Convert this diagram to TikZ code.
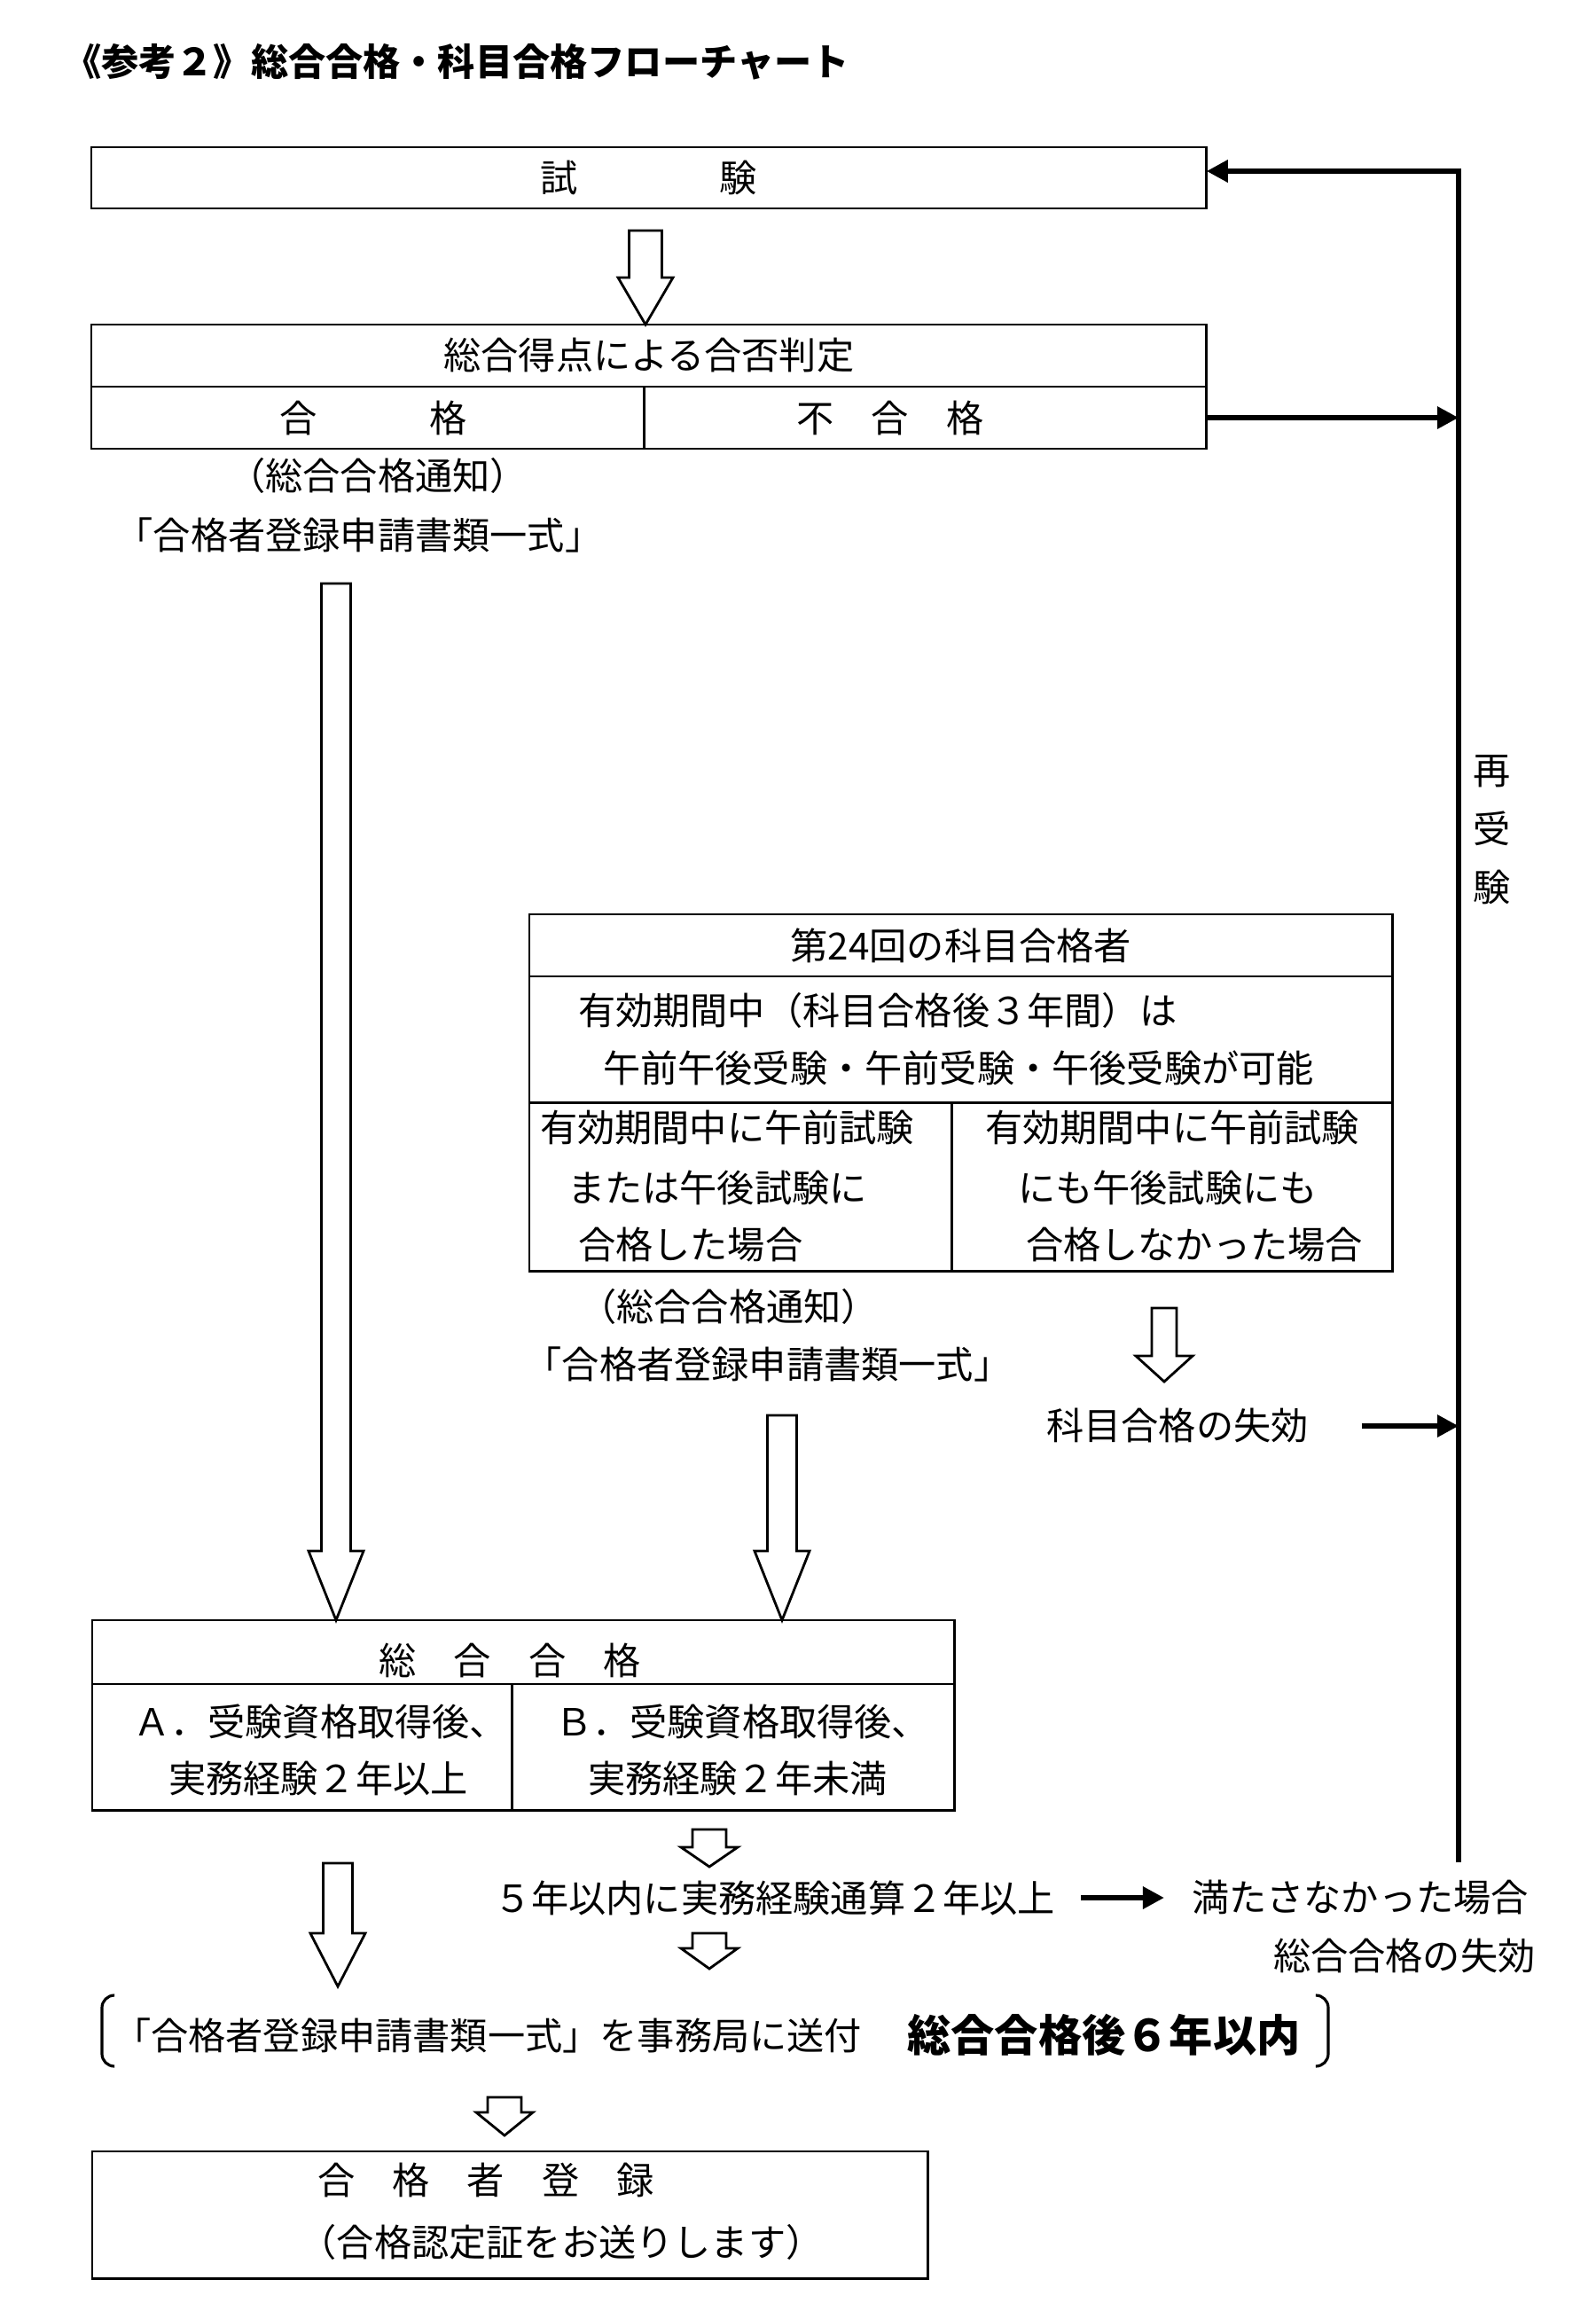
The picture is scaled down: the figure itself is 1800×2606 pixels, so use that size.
\documentclass[tikz,border=0pt]{standalone}
\usepackage{fontspec}
\setmainfont{Noto Sans CJK JP}
\usetikzlibrary{arrows.meta,calc}

\newcommand{\hollowarrow}[5]{%
\draw[hollow] ($(#1)+(-#3,0)$) -- ($(#2)+(-#3,-#5)$) -- ($(#2)+(-#4,-#5)$) -- (#2)
  -- ($(#2)+(#4,-#5)$) -- ($(#2)+(#3,-#5)$) -- ($(#1)+(#3,0)$) -- cycle;}

\begin{document}
\begin{tikzpicture}[x=0.01cm,y=-0.01cm]
\tikzstyle{every node}+=[inner sep=0pt, outer sep=0pt]
\tikzstyle{box}=[draw, line width=0.8pt, anchor=north west]
\tikzstyle{txt}=[font=\fontsize{12}{14}\selectfont]
\tikzstyle{lline}=[txt, anchor=west]
\tikzstyle{hollow}=[draw, line width=0.8pt, line join=miter]
\tikzstyle{heavy}=[line width=1.7pt, -{Triangle[length=0.24cm,width=0.24cm]}]
\useasboundingbox (0,0) rectangle (1800,2606);

\node[lline, font=\fontsize{12}{14}\selectfont\bfseries] (title) at (72,70) {《参考２》総合合格・科目合格フローチャート};

\node[box, minimum width=12.57cm, minimum height=0.69cm] (shiken) at (103,166) {};
\node[txt] (shikentxt) at (shiken.center) {試\hspace{1.6cm}験};
\node[box, minimum width=12.57cm, minimum height=0.70cm] (hantei) at (103,366) {};
\node[txt] (hanteitxt) at (hantei.center) {総合得点による合否判定};
\node[box, minimum width=6.23cm, minimum height=0.70cm] (gokaku) at (103,436) {};
\node[box, minimum width=6.34cm, minimum height=0.70cm] (fugokaku) at (726,436) {};
\node[txt] (gokakutxt) at (421,471) {合　　　格};
\node[txt] (fugokakutxt) at (1004,471) {不　合　格};
\node[txt] (tsuchi1) at (426,536) {（総合合格通知）};
\node[txt] (shorui1) at (405,603) {「合格者登録申請書類一式」};

\node[box, minimum width=9.73cm, minimum height=0.70cm] (kamoku) at (597,1031) {};
\node[txt] (kamokutxt) at (kamoku.center) {第24回の科目合格者};
\node[box, minimum width=9.73cm, minimum height=1.42cm] (yuko) at (597,1101) {};
\node[lline] (yuko1) at (652,1139) {有効期間中（科目合格後３年間）は};
\node[lline] (yuko2) at (680,1204) {午前午後受験・午前受験・午後受験が可能};
\node[box, minimum width=4.76cm, minimum height=1.90cm] (kamokuA) at (597,1243) {};
\node[box, minimum width=4.97cm, minimum height=1.90cm] (kamokuB) at (1073,1243) {};
\node[lline] (kA1) at (609,1271) {有効期間中に午前試験};
\node[lline] (kA2) at (640,1339) {または午後試験に};
\node[lline] (kA3) at (652,1404) {合格した場合};
\node[lline] (kB1) at (1111,1271) {有効期間中に午前試験};
\node[lline] (kB2) at (1148,1339) {にも午後試験にも};
\node[lline] (kB3) at (1157,1404) {合格しなかった場合};
\node[txt] (tsuchi2) at (822,1473) {（総合合格通知）};
\node[txt] (shorui2) at (866,1538) {「合格者登録申請書類一式」};
\node[txt] (shikko) at (1328,1608) {科目合格の失効};

\node[txt, align=center, font=\fontsize{12}{18.8}\selectfont] (saijuken) at (1683,936) {再\\受\\験};

\node[box, minimum width=9.72cm, minimum height=0.72cm] (sogo) at (104,1827) {};
\node[txt] (sogotxt) at (575,1872) {総　合　合　格};
\node[box, minimum width=4.73cm, minimum height=1.42cm] (sogoA) at (104,1899) {};
\node[box, minimum width=4.99cm, minimum height=1.42cm] (sogoB) at (577,1899) {};
\node[lline] (sA1) at (150,1941) {Ａ．受験資格取得後、};
\node[lline] (sA2) at (190,2005) {実務経験２年以上};
\node[lline] (sB1) at (626,1941) {Ｂ．受験資格取得後、};
\node[lline] (sB2) at (663,2005) {実務経験２年未満};

\node[lline] (jitsumu) at (557,2140) {５年以内に実務経験通算２年以上};
\node[lline] (mitasazu) at (1344,2140) {満たさなかった場合};
\node[lline] (sogoshikko) at (1436,2205) {総合合格の失効};

\node[txt] (soufu) at (550,2295) {「合格者登録申請書類一式」を事務局に送付};
\node[txt, font=\fontsize{14}{16}\selectfont\bfseries] (kigen) at (1245,2295) {総合合格後６年以内};
\draw[line width=0.9pt, rounded corners=0.14cm] (129,2250) -- (115,2250) -- (115,2330) -- (129,2330);
\draw[line width=0.9pt, rounded corners=0.14cm] (1484,2250) -- (1498,2250) -- (1498,2330) -- (1484,2330);

\node[box, minimum width=9.42cm, minimum height=1.43cm] (toroku) at (104,2426) {};
\node[txt] (toroku1) at (548,2458) {合　格　者　登　録};
\node[txt] (toroku2) at (633,2528) {（合格認定証をお送りします）};

\coordinate (a1) at (728,260);
\coordinate (a2) at (379,658);
\coordinate (a3) at (1313,1475);
\coordinate (a3e) at (1313,1558);
\coordinate (a4) at (882,1596);
\coordinate (a5) at (381,2101);
\coordinate (a5e) at (381,2240);
\coordinate (b1) at (800,2063);
\coordinate (b1e) at (800,2105);
\coordinate (b2) at (800,2180);
\coordinate (b2e) at (800,2220);
\coordinate (b3) at (569,2365);
\coordinate (b3e) at (569,2408);
\hollowarrow{a1}{a1 |- hantei.north}{18.5}{31}{53}
\hollowarrow{a2}{a2 |- sogo.north}{16.5}{31}{78}
\hollowarrow{a3}{a3e}{14}{32}{29}
\hollowarrow{a4}{a4 |- sogo.north}{16.5}{31}{78}
\hollowarrow{a5}{a5e}{16.5}{31}{60}
\hollowarrow{b1}{b1e}{19}{32}{22}
\hollowarrow{b2}{b2e}{19}{32}{23}
\hollowarrow{b3}{b3e}{19}{32}{26}

\coordinate (rettop) at (1645,193);
\coordinate (retbot) at (1645,2100);
\draw[heavy] (retbot) -- (rettop) -- (shiken.east |- rettop);
\draw[heavy] (fugokaku.east) -- (rettop |- fugokaku.east);
\draw[heavy, shorten <=0.6cm] (shikko.east) -- (rettop |- shikko.east);
\draw[heavy, shorten <=0.29cm, shorten >=0.31cm] (jitsumu.east) -- (mitasazu.west);
\end{tikzpicture}
\end{document}
